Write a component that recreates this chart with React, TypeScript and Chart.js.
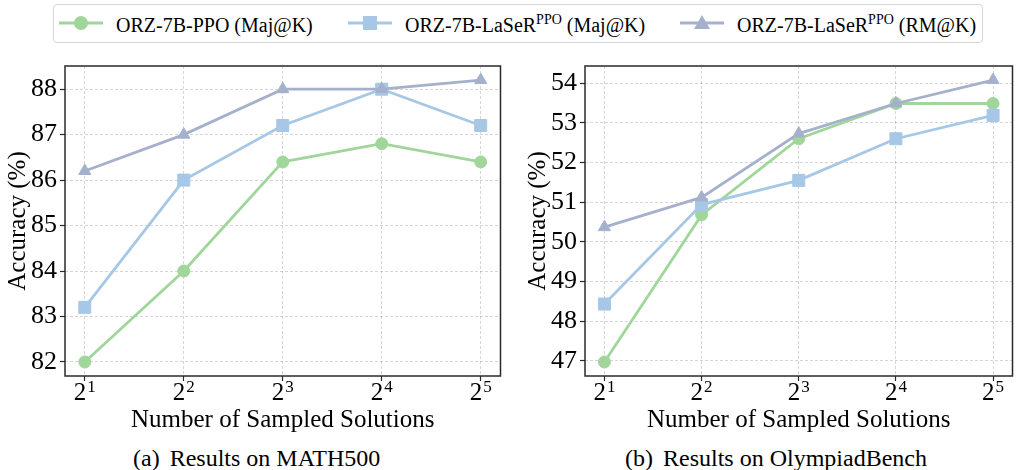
import React, { useEffect, useRef } from 'react';
import { Chart, registerables } from 'chart.js';

Chart.register(...registerables);

// ---------- data ----------
const K_VALUES = [2, 4, 8, 16, 32];
const TICK_BASE = '2';
const TICK_EXPONENTS = ['1', '2', '3', '4', '5'];

const SERIES_PPO = 'ORZ-7B-PPO (Maj@K)';
const SERIES_LASER_MAJ = 'ORZ-7B-LaSeR^PPO (Maj@K)';
const SERIES_LASER_RM = 'ORZ-7B-LaSeR^PPO (RM@K)';

const MATH500_PPO = [82.0, 84.0, 86.4, 86.8, 86.4];
const MATH500_LASER_MAJ = [83.2, 86.0, 87.2, 88.0, 87.2];
const MATH500_LASER_RM = [86.2, 87.0, 88.0, 88.0, 88.2];
const MATH500_Y_TICKS = [82, 83, 84, 85, 86, 87, 88];

const OLY_PPO = [46.97, 50.68, 52.6, 53.49, 53.49];
const OLY_LASER_MAJ = [48.43, 50.94, 51.55, 52.6, 53.19];
const OLY_LASER_RM = [50.37, 51.12, 52.73, 53.49, 54.08];
const OLY_Y_TICKS = [47, 48, 49, 50, 51, 52, 53, 54];

const X_TITLE = 'Number of Sampled Solutions';
const Y_TITLE = 'Accuracy (%)';
const CAPTION_A = ['(a)', 'Results on MATH500'];
const CAPTION_B = ['(b)', 'Results on OlympiadBench'];

// ---------- style ----------
const FONT = "'Liberation Serif', 'Times New Roman', serif";
const GREEN = '#a1d69b';
const BLUE = '#a6c8e6';
const GRAY = '#a5b1cc';
const GRID = 'rgba(0,0,0,0.16)';
const SPINE = '#2a2a2a';

const decorPlugin = {
  id: 'decor',
  afterDraw(chart: any) {
    const { ctx, chartArea: a, scales } = chart;
    ctx.save();
    ctx.strokeStyle = SPINE;
    ctx.lineWidth = 1.5;
    ctx.strokeRect(a.left, a.top, a.right - a.left, a.bottom - a.top);

    ctx.fillStyle = '#000';
    ctx.textBaseline = 'alphabetic';
    ctx.textAlign = 'left';
    K_VALUES.forEach((k, i) => {
      const x = scales.x.getPixelForValue(k);
      ctx.font = `25px ${FONT}`;
      const wb = ctx.measureText(TICK_BASE).width;
      ctx.font = `17px ${FONT}`;
      const we = ctx.measureText(TICK_EXPONENTS[i]).width;
      const x0 = x - (wb + we + 1) / 2;
      ctx.font = `25px ${FONT}`;
      ctx.fillText(TICK_BASE, x0, a.bottom + 24);
      ctx.font = `17px ${FONT}`;
      ctx.fillText(TICK_EXPONENTS[i], x0 + wb + 1, a.bottom + 16);
    });

    ctx.font = `25px ${FONT}`;
    ctx.textAlign = 'center';
    ctx.fillText(X_TITLE, (a.left + a.right) / 2, a.bottom + 50.5);

    ctx.translate(a.left - 47, (a.top + a.bottom) / 2);
    ctx.rotate(-Math.PI / 2);
    ctx.textBaseline = 'middle';
    ctx.fillText(Y_TITLE, 0, 0);
    ctx.restore();
  },
};

type PanelProps = {
  ppo: number[];
  maj: number[];
  rm: number[];
  yTicks: number[];
  yAxisWidth: number;
  padRight: number;
  width: number;
  left: number;
};

function Panel({ ppo, maj, rm, yTicks, yAxisWidth, padRight, width, left }: PanelProps) {
  const ref = useRef<HTMLCanvasElement | null>(null);
  useEffect(() => {
    if (!ref.current) return;
    const all = [...ppo, ...maj, ...rm];
    const lo = Math.min(...all);
    const hi = Math.max(...all);
    const pad = (hi - lo) * 0.05;
    const l2min = Math.log2(K_VALUES[0]);
    const l2max = Math.log2(K_VALUES[K_VALUES.length - 1]);
    const xpad = (l2max - l2min) * 0.05;
    const mk = (label: string, vals: number[], color: string, style: string, r: number, order: number) => ({
      label,
      data: K_VALUES.map((k, i) => ({ x: k, y: vals[i] })),
      borderColor: color,
      backgroundColor: color,
      pointBackgroundColor: color,
      pointBorderColor: color,
      pointBorderWidth: 1,
      borderWidth: 2.8,
      pointStyle: style,
      pointRadius: r,
      pointHoverRadius: r,
      order,
      tension: 0,
    });
    const gridOpts = {
      color: GRID,
      lineWidth: 1,
      drawTicks: true,
      tickLength: 5,
      tickColor: SPINE,
      tickWidth: 1.2,
    };
    const chart = new Chart(ref.current, {
      type: 'line',
      data: {
        datasets: [
          mk(SERIES_PPO, ppo, GREEN, 'circle', 6, 2),
          mk(SERIES_LASER_MAJ, maj, BLUE, 'rect', 8.5, 1),
          mk(SERIES_LASER_RM, rm, GRAY, 'triangle', 7, 0),
        ],
      },
      options: {
        responsive: false,
        animation: false,
        devicePixelRatio: 1,
        layout: { padding: { left: 0, top: 66, right: padRight, bottom: 0 } },
        plugins: { legend: { display: false }, tooltip: { enabled: false } },
        scales: {
          x: {
            type: 'logarithmic',
            min: Math.pow(2, l2min - xpad),
            max: Math.pow(2, l2max + xpad),
            afterBuildTicks: (s: any) => {
              s.ticks = K_VALUES.map((v) => ({ value: v }));
            },
            afterFit: (s: any) => {
              s.height = 64;
            },
            ticks: { display: false },
            grid: gridOpts,
            border: { display: false, dash: [3, 2] },
          },
          y: {
            type: 'linear',
            min: lo - pad,
            max: hi + pad,
            afterBuildTicks: (s: any) => {
              s.ticks = yTicks.map((v) => ({ value: v }));
            },
            afterFit: (s: any) => {
              s.width = yAxisWidth;
            },
            ticks: {
              font: { family: FONT, size: 26 },
              color: '#000',
              padding: 3,
              autoSkip: false,
              callback: (v: any) => String(v),
            },
            grid: gridOpts,
            border: { display: false, dash: [3, 2] },
          },
        },
      } as any,
      plugins: [decorPlugin],
    });
    return () => chart.destroy();
  }, []);
  return (
    <canvas
      ref={ref}
      width={width}
      height={440}
      style={{ position: 'absolute', left, top: 0, width, height: 440 }}
    />
  );
}

function LegendLabel({ text }: { text: string }) {
  const parts = text.split('^');
  if (parts.length === 1) return <>{text}</>;
  const m = parts[1].match(/^(\S+)(.*)$/);
  const sup = m ? m[1] : parts[1];
  const rest = m ? m[2] : '';
  return (
    <>
      {parts[0]}
      <span style={{ fontSize: 14, position: 'relative', top: -8 }}>{sup}</span>
      {rest}
    </>
  );
}

function Marker({ color, kind }: { color: string; kind: string }) {
  return (
    <svg width={44} height={20} style={{ position: 'absolute', left: 0, top: 0 }}>
      <line x1={0} y1={10} x2={44} y2={10} stroke={color} strokeWidth={3} />
      {kind === 'circle' && <circle cx={22} cy={10} r={7} fill={color} />}
      {kind === 'rect' && <rect x={15} y={3} width={14} height={14} fill={color} />}
      {kind === 'triangle' && <polygon points="22,2 30,16 14,16" fill={color} />}
    </svg>
  );
}

const LEGEND_ITEMS = [
  { name: SERIES_PPO, color: GREEN, kind: 'circle', x: 59 },
  { name: SERIES_LASER_MAJ, color: BLUE, kind: 'rect', x: 348 },
  { name: SERIES_LASER_RM, color: GRAY, kind: 'triangle', x: 680 },
];

export default function App() {
  return (
    <div
      style={{
        position: 'absolute',
        left: 0,
        top: 0,
        width: 1022,
        height: 470,
        background: '#fff',
        overflow: 'hidden',
        fontFamily: FONT,
        color: '#000',
      }}
    >
      <Panel
        ppo={MATH500_PPO}
        maj={MATH500_LASER_MAJ}
        rm={MATH500_LASER_RM}
        yTicks={MATH500_Y_TICKS}
        yAxisWidth={65}
        padRight={8.3}
        width={510}
        left={0}
      />
      <Panel
        ppo={OLY_PPO}
        maj={OLY_LASER_MAJ}
        rm={OLY_LASER_RM}
        yTicks={OLY_Y_TICKS}
        yAxisWidth={75}
        padRight={1}
        width={512}
        left={510}
      />
      <div
        style={{
          position: 'absolute',
          left: 53,
          top: 4,
          width: 930,
          height: 39,
          border: '1px solid #d4d4d4',
          borderRadius: 4,
          boxSizing: 'border-box',
          background: '#fff',
        }}
      />
      {LEGEND_ITEMS.map((it) => (
        <div key={it.name}>
          <div style={{ position: 'absolute', left: it.x, top: 13, width: 44, height: 20 }}>
            <Marker color={it.color} kind={it.kind} />
          </div>
          <div
            style={{
              position: 'absolute',
              left: it.x + 57,
              top: 15,
              fontSize: 20,
              lineHeight: '20px',
              whiteSpace: 'nowrap',
            }}
          >
            <LegendLabel text={it.name} />
          </div>
        </div>
      ))}
      <div style={{ position: 'absolute', left: 133, top: 446, fontSize: 24, lineHeight: '24px', whiteSpace: 'nowrap' }}>
        {CAPTION_A[0]}
        <span style={{ marginLeft: 10 }}>{CAPTION_A[1]}</span>
      </div>
      <div style={{ position: 'absolute', left: 625, top: 446, fontSize: 24, lineHeight: '24px', whiteSpace: 'nowrap' }}>
        {CAPTION_B[0]}
        <span style={{ marginLeft: 10 }}>{CAPTION_B[1]}</span>
      </div>
    </div>
  );
}
